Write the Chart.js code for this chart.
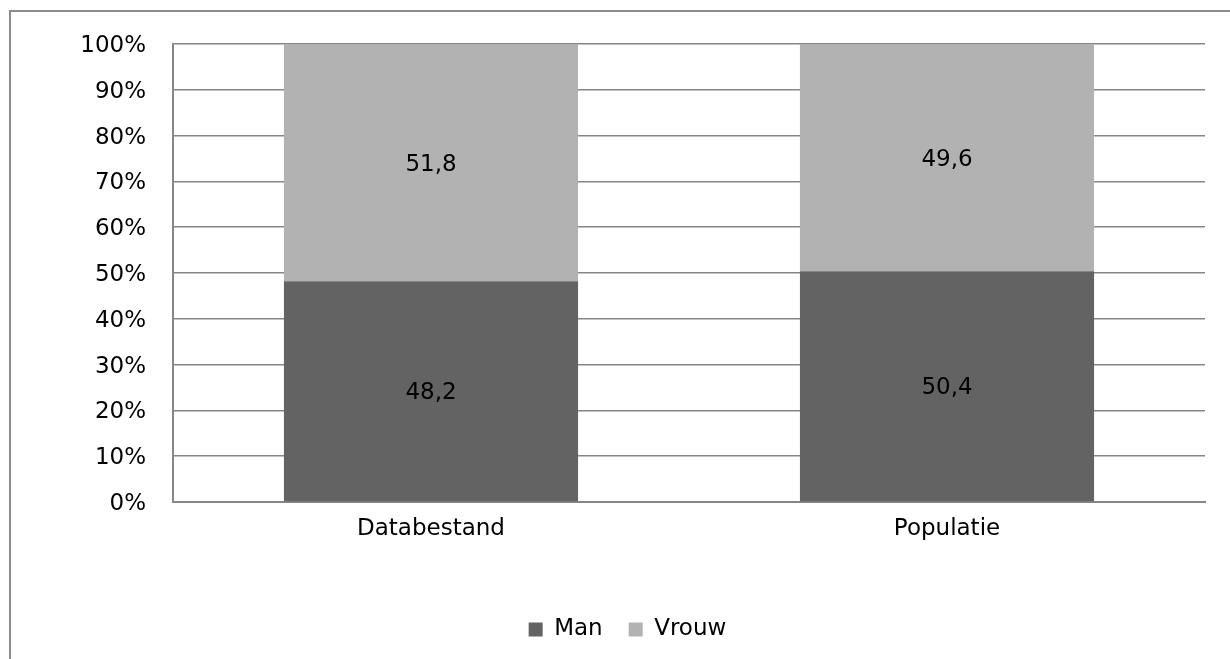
<!DOCTYPE html>
<html>
<head>
<meta charset="utf-8">
<script src="https://cdn.jsdelivr.net/npm/chart.js@4/dist/chart.umd.min.js"></script>
<style>
  body { margin: 0; background: #fff; }
  #wrap { position: relative; width: 1230px; height: 659px; overflow: hidden; }
  #frame { position: absolute; left: 9px; top: 10px; width: 1300px; height: 700px; border: 2px solid #8c8c8c; }
  #canvas { position: absolute; left: 0; top: 0; }
</style>
</head>
<body>
<div id="wrap">
  <div id="frame"></div>
  <canvas id="canvas" width="1230" height="659"></canvas>
</div>
<script>
const categories = ['Databestand', 'Populatie']
const manValues = [48.2, 50.4]
const vrouwValues = [51.8, 49.6]
const yTicks = [0, 10, 20, 30, 40, 50, 60, 70, 80, 90, 100]

const fontFam = '"DejaVu Sans", Verdana, sans-serif'

// labels in het midden van elk segment
const segmentLabels = {
  id: 'segmentLabels',
  afterDatasetsDraw(chart) {
    const c = chart.ctx
    c.save()
    c.font = '23px ' + fontFam
    c.fillStyle = '#000'
    c.textAlign = 'center'
    c.textBaseline = 'middle'
    chart.data.datasets.forEach((ds, di) => {
      chart.getDatasetMeta(di).data.forEach((bar, i) => {
        const mid = (bar.y + bar.base) / 2
        c.fillText(ds.data[i].toFixed(1).replace('.', ','), bar.x, mid + 2)
      })
    })
    c.restore()
  }
}

const canvas = document.getElementById('canvas')
new Chart(canvas, {
  type: 'bar',
  data: {
    labels: categories,
    datasets: [
      { label: 'Man', data: manValues, backgroundColor: '#636363' },
      { label: 'Vrouw', data: vrouwValues, backgroundColor: '#b2b2b2' }
    ]
  },
  options: {
    responsive: false,
    animation: false,
    devicePixelRatio: 1,
    categoryPercentage: 1,
    barPercentage: 0.57,
    layout: { padding: { left: 50, right: 25, top: 44, bottom: 8 } },
    plugins: {
      tooltip: { enabled: false },
      legend: {
        position: 'bottom',
        labels: {
          boxWidth: 14,
          boxHeight: 14,
          padding: 26,
          color: '#000',
          font: { family: fontFam, size: 23 }
        }
      }
    },
    scales: {
      x: {
        stacked: true,
        grid: { display: false, drawTicks: false },
        border: { color: '#868686', width: 2 },
        ticks: { color: '#000', padding: 13, font: { family: fontFam, size: 23 } },
        afterFit(scale) { scale.height = 90 }
      },
      y: {
        stacked: true,
        min: 0,
        max: 100,
        afterBuildTicks(scale) { scale.ticks = yTicks.map(v => ({ value: v })) },
        grid: { color: '#868686', lineWidth: 1.5, drawTicks: false },
        border: { color: '#868686', width: 2 },
        ticks: {
          color: '#000',
          padding: 27,
          labelOffset: 2,
          font: { family: fontFam, size: 23 },
          callback: v => v + '%'
        },
        afterFit(scale) { scale.width = 123 }
      }
    }
  },
  plugins: [segmentLabels]
})
</script>
</body>
</html>
